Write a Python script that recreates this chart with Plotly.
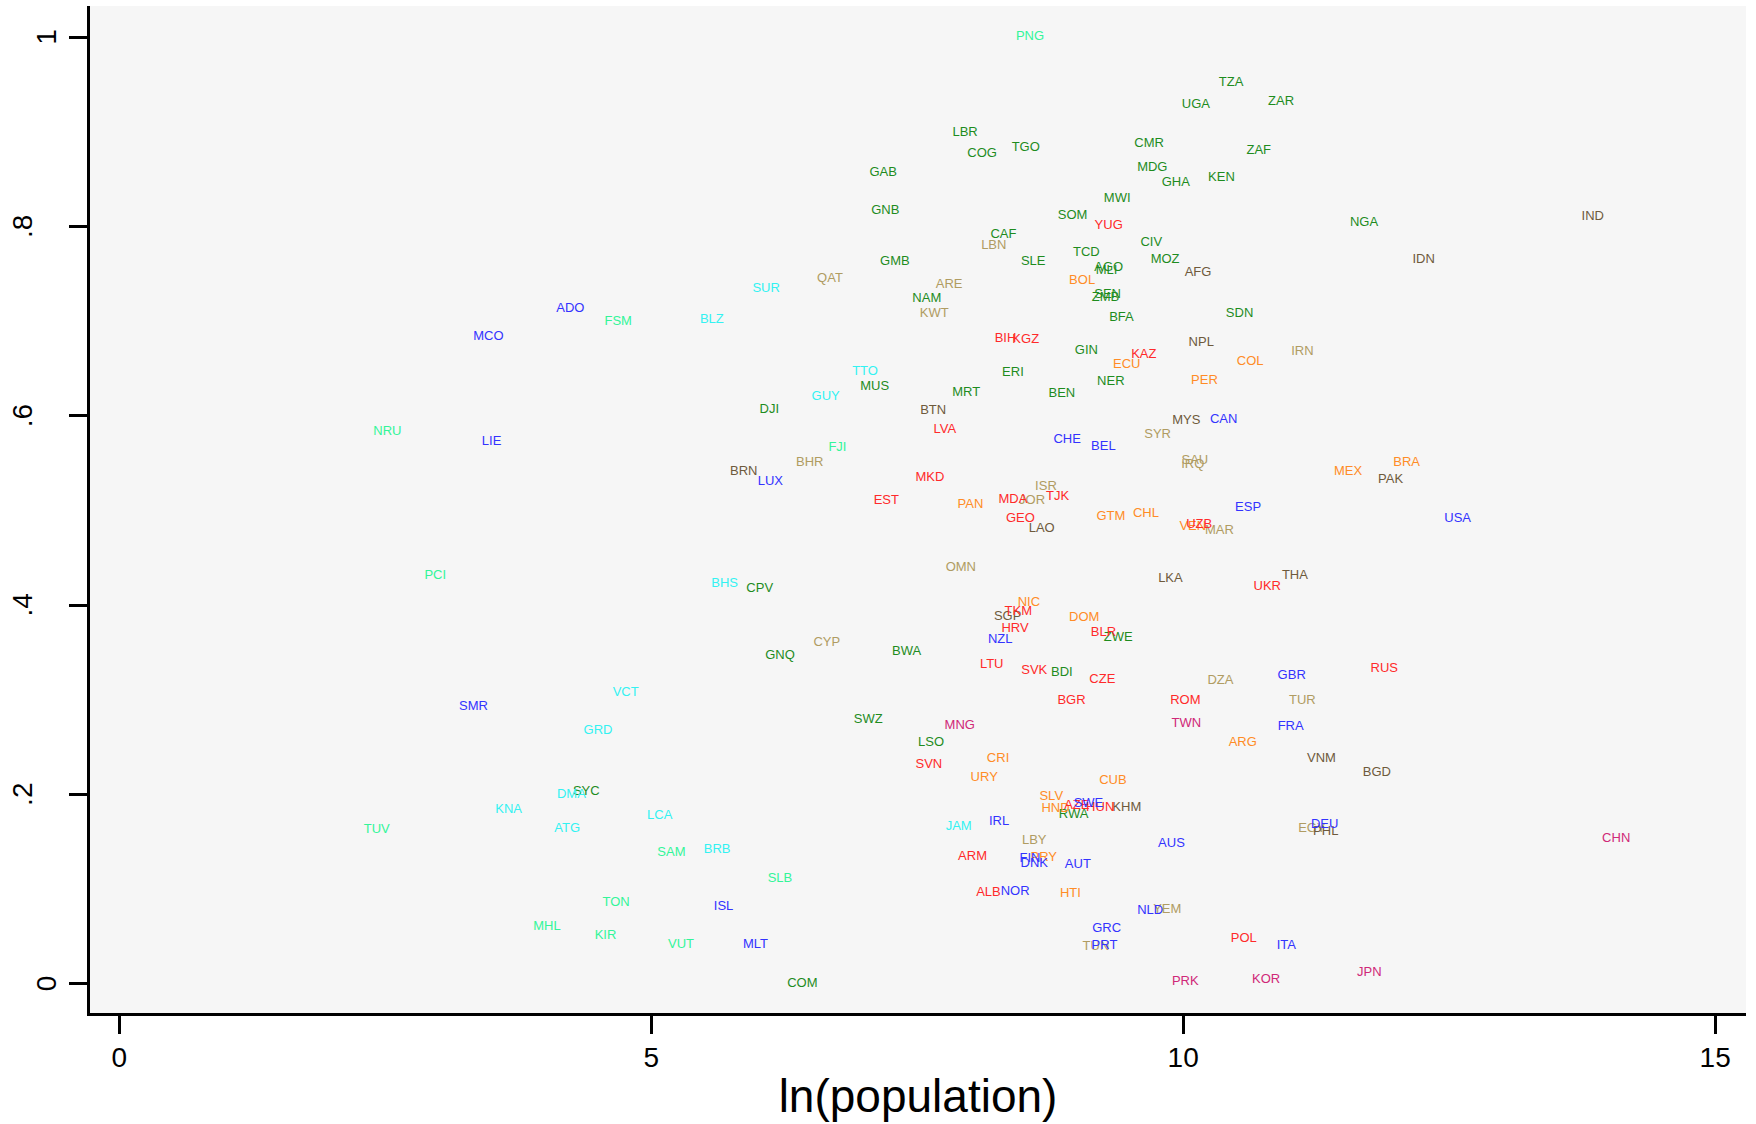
import plotly.graph_objects as go

# ---- data: ln(population) (x) and share (y), by region group ----
africa_codes = ["GAB","GNB","GMB","TZA","UGA","ZAR","LBR","COG","TGO","CMR","ZAF","MDG","GHA","KEN","MWI",
                "SOM","CAF","CIV","SLE","TCD","MOZ","MLI","AGO","NAM","ZMB","SEN","BFA","SDN","GIN","ERI",
                "NGA","MUS","DJI","MRT","BEN","NER","CPV","GNQ","BWA","SWZ","BDI","ZWE","LSO","RWA","SYC","COM"]
africa_x = [7.18,7.20,7.29,10.45,10.12,10.92,7.95,8.11,8.52,9.68,10.71,9.71,9.93,10.36,9.38,
            8.96,8.31,9.70,8.59,9.09,9.83,9.28,9.30,7.59,9.27,9.29,9.42,10.53,9.09,8.40,
            11.70,7.10,6.11,7.96,8.86,9.32,6.02,6.21,7.40,7.04,8.86,9.39,7.63,8.97,4.39,6.42]
africa_y = [0.857,0.817,0.763,0.952,0.929,0.932,0.899,0.877,0.883,0.887,0.880,0.862,0.846,0.852,0.829,
            0.811,0.791,0.783,0.763,0.772,0.765,0.753,0.756,0.724,0.725,0.728,0.704,0.708,0.669,0.646,
            0.804,0.631,0.606,0.624,0.623,0.636,0.417,0.347,0.351,0.279,0.328,0.366,0.255,0.179,0.203,0.000]

pacific_codes = ["PNG","FSM","NRU","PCI","TUV","FJI","MHL","KIR","TON","SAM","VUT","SLB"]
pacific_x = [8.56,4.69,2.52,2.97,2.42,6.75,4.02,4.57,4.67,5.19,5.28,6.21]
pacific_y = [1.000,0.699,0.583,0.431,0.163,0.566,0.060,0.051,0.086,0.138,0.041,0.111]

carib_codes = ["SUR","BLZ","TTO","GUY","BHS","VCT","GRD","DMA","KNA","ATG","LCA","BRB","JAM"]
carib_x = [6.08,5.57,7.01,6.64,5.69,4.76,4.50,4.25,3.66,4.21,5.08,5.62,7.89]
carib_y = [0.734,0.702,0.647,0.620,0.423,0.307,0.267,0.200,0.184,0.164,0.177,0.142,0.166]

west_codes = ["MCO","ADO","LIE","SMR","LUX","CHE","BEL","CAN","ESP","USA","NZL","GBR","FRA","IRL",
              "AUS","FIN","DNK","AUT","NOR","SWE","NLD","GRC","PRT","ITA","DEU","ISL","MLT"]
west_x = [3.47,4.24,3.50,3.33,6.12,8.91,9.25,10.38,10.61,12.58,8.28,11.02,11.01,8.27,
          9.89,8.56,8.60,9.01,8.42,9.11,9.69,9.28,9.26,10.97,11.33,5.68,5.98]
west_y = [0.684,0.713,0.573,0.293,0.530,0.575,0.567,0.596,0.503,0.491,0.363,0.325,0.271,0.171,
          0.148,0.132,0.127,0.126,0.097,0.190,0.077,0.058,0.040,0.040,0.168,0.081,0.041]

east_codes = ["YUG","BIH","KGZ","KAZ","LVA","MKD","EST","MDA","GEO","TJK","UZB","UKR","RUS","TKM",
              "HRV","BLR","LTU","SVK","CZE","BGR","ROM","SVN","ARM","ALB","AZE","HUN","POL"]
east_x = [9.30,8.33,8.52,9.63,7.76,7.62,7.21,8.40,8.47,8.82,10.15,10.79,11.89,8.45,
          8.42,9.25,8.20,8.60,9.24,8.95,10.02,7.61,8.02,8.17,9.00,9.22,10.57]
east_y = [0.801,0.681,0.680,0.664,0.585,0.535,0.510,0.511,0.491,0.514,0.485,0.419,0.333,0.393,
          0.375,0.371,0.337,0.331,0.321,0.299,0.299,0.231,0.134,0.096,0.188,0.186,0.047]

latam_codes = ["BOL","ECU","COL","PER","PAN","GTM","CHL","VEN","MEX","BRA","NIC","DOM","CRI","URY",
               "SLV","HND","PRY","HTI","CUB","ARG"]
latam_x = [9.05,9.47,10.63,10.20,8.00,9.32,9.65,10.09,11.55,12.10,8.55,9.07,8.26,8.13,
           8.76,8.80,8.69,8.94,9.34,10.56]
latam_y = [0.743,0.654,0.657,0.637,0.506,0.493,0.497,0.483,0.541,0.550,0.402,0.387,0.238,0.218,
           0.198,0.185,0.133,0.095,0.214,0.255]

mena_codes = ["QAT","ARE","KWT","LBN","IRN","SYR","SAU","IRQ","ISR","JOR","MAR","OMN","CYP","DZA",
              "TUR","LBY","YEM","TUN","EGY","BHR"]
mena_x = [6.68,7.80,7.66,8.22,11.12,9.76,10.11,10.09,8.71,8.58,10.34,7.91,6.65,10.35,
          11.12,8.60,9.85,9.18,11.21,6.49]
mena_y = [0.745,0.738,0.708,0.780,0.668,0.580,0.553,0.548,0.525,0.510,0.479,0.439,0.360,0.320,
          0.299,0.151,0.078,0.039,0.164,0.550]

asia_codes = ["AFG","NPL","IND","IDN","PAK","BTN","BRN","MYS","LAO","SGP","LKA","THA","VNM","BGD","KHM","PHL"]
asia_x = [10.14,10.17,13.85,12.26,11.95,7.65,5.87,10.03,8.67,8.35,9.88,11.05,11.30,11.82,9.47,11.34]
asia_y = [0.751,0.677,0.810,0.765,0.532,0.605,0.541,0.595,0.481,0.388,0.428,0.431,0.238,0.223,0.186,0.160]

eastasia_codes = ["CHN","JPN","KOR","PRK","TWN","MNG"]
eastasia_x = [14.07,11.75,10.78,10.02,10.03,7.90]
eastasia_y = [0.153,0.012,0.004,0.002,0.275,0.272]

x_ticks = [0, 5, 10, 15]
y_ticks = [0, 0.2, 0.4, 0.6, 0.8, 1]
y_tick_text = ["0", ".2", ".4", ".6", ".8", "1"]

groups = [
    (africa_codes, africa_x, africa_y, "#1e8c1e"),
    (pacific_codes, pacific_x, pacific_y, "#33f599"),
    (carib_codes, carib_x, carib_y, "#33f2f2"),
    (mena_codes, mena_x, mena_y, "#b09c62"),
    (asia_codes, asia_x, asia_y, "#6e5a3c"),
    (latam_codes, latam_x, latam_y, "#ff8c26"),
    (east_codes, east_x, east_y, "#ff2a2a"),
    (west_codes, west_x, west_y, "#3333ff"),
    (eastasia_codes, eastasia_x, eastasia_y, "#d02878"),
]

FONT = "Liberation Sans, Arial, Helvetica, sans-serif"

fig = go.Figure()
for codes, xs, ys, col in groups:
    fig.add_trace(go.Scatter(
        x=xs, y=ys, text=codes, mode="text", textposition="middle center",
        textfont=dict(family=FONT, size=13, color=col),
        showlegend=False, hoverinfo="text", cliponaxis=False))

# rotated y tick labels
for v, t in zip(y_ticks, y_tick_text):
    fig.add_annotation(x=0, xref="paper", y=v, yref="y", text=t, showarrow=False,
                       textangle=-90, xanchor="center", yanchor="middle",
                       xshift=-43.5 if len(t) == 1 else -67.5,
                       font=dict(family=FONT, size=28, color="black"))

fig.update_layout(
    width=1756, height=1124,
    margin=dict(l=90, r=10, t=6, b=111),
    paper_bgcolor="white", plot_bgcolor="#f6f6f6",
    showlegend=False,
    xaxis=dict(range=[-0.275, 15.29], tickvals=x_ticks, ticktext=[str(v) for v in x_ticks],
               showgrid=False, zeroline=False, showline=True, linecolor="black", linewidth=2.5,
               ticks="outside", ticklen=18, tickwidth=2.5, tickcolor="black",
               tickfont=dict(family=FONT, size=28, color="black"),
               title=dict(text="ln(population)", font=dict(family=FONT, size=46, color="black"),
                          standoff=8),
               automargin=False),
    yaxis=dict(range=[-0.031, 1.033], tickvals=y_ticks, showticklabels=False,
               showgrid=False, zeroline=False, showline=True, linecolor="black", linewidth=2.5,
               ticks="outside", ticklen=18, tickwidth=2.5, tickcolor="black",
               automargin=False),
)

fig.write_html("out.html")
